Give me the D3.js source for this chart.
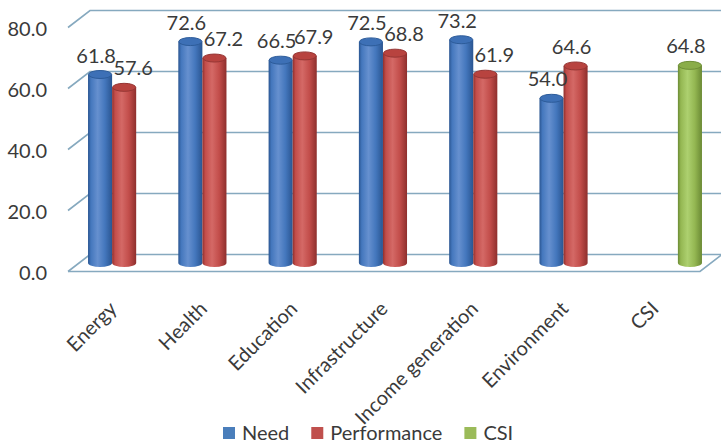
<!DOCTYPE html>
<html>
<head>
<meta charset="utf-8">
<script src="https://cdn.jsdelivr.net/npm/d3@7"></script>
<style>
  html, body { margin: 0; padding: 0; background: #ffffff; }
  svg { display: block; }
  text { font-family: Lato, "Open Sans", sans-serif; fill: #3a3a3a; }
</style>
</head>
<body>
<svg id="chart" width="721" height="443"></svg>
<script>
// Index scores per sector (3D cylinder column chart)
const categories = ["Energy", "Health", "Education", "Infrastructure", "Income generation", "Environment", "CSI"];
const seriesNames = ["Need", "Performance", "CSI"];
const needValues = [61.8, 72.6, 66.5, 72.5, 73.2, 54.0, null];
const performanceValues = [57.6, 67.2, 67.9, 68.8, 61.9, 64.6, null];
const csiValues = [null, null, null, null, null, null, 64.8];
const yTicks = [0, 20, 40, 60, 80];

const seriesValues = [needValues, performanceValues, csiValues];
const colors = {
  Need: { dark: "#2a5591", mid: "#4477bd", light: "#6690cf", top: "#3d70b6", stroke: "#2d5c9a", key: "#4a7ebb" },
  Performance: { dark: "#8e2f2d", mid: "#c24d4a", light: "#d46966", top: "#b8433f", stroke: "#963634", key: "#c0504d" },
  CSI: { dark: "#6b8a34", mid: "#94b752", light: "#add06f", top: "#8aad49", stroke: "#6f8f38", key: "#9bbb59" }
};

const svg = d3.select("#chart");
const defs = svg.append("defs");

// depth of the 3D box: back wall is shifted up-right, front edge down-left
const depth = { dx: 11, dy: 8.5 };

const x0 = d3.scaleBand().domain(categories).range([79, 711]).paddingInner(0.2).paddingOuter(0.1);
const x1 = d3.scaleBand().domain(seriesNames).range([0, x0.bandwidth()]);
const y = d3.scaleLinear().domain([0, 80]).range([263, 19]);

const gridColor = "#86a9bf";
const xLeftFront = x0.range()[0] - depth.dx;
const xRightFront = x0.range()[1] - depth.dx;
const xRightBack = x0.range()[1] + depth.dx;

// walls: gridlines on the back wall and the left side wall
const grid = svg.append("g").attr("fill", "none").attr("stroke", gridColor).attr("stroke-width", 1.6);
yTicks.forEach(t => {
  const yb = y(t) - depth.dy, yf = y(t) + depth.dy;
  grid.append("path").attr("d", `M${xLeftFront},${yf}L${xLeftFront + 2 * depth.dx},${yb}L${xRightBack + 20},${yb}`);
});
// floor front edge and right edge
grid.append("path").attr("d",
  `M${xLeftFront},${y(0) + depth.dy}L${xRightFront},${y(0) + depth.dy}L${xRightBack},${y(0) - depth.dy}`);

// y axis labels sit at the front ends of the gridlines
svg.append("g").selectAll("text").data(yTicks).join("text")
  .attr("x", 47).attr("y", d => y(d) + depth.dy)
  .attr("text-anchor", "end").attr("dominant-baseline", "central")
  .attr("font-size", 20)
  .text(d => d3.format(".1f")(d));

// gradients for cylinder shading
seriesNames.forEach(name => {
  const c = colors[name];
  const g = defs.append("linearGradient").attr("id", "grad-" + name).attr("x1", "0").attr("x2", "1").attr("y1", "0").attr("y2", "0");
  [[0, c.dark], [0.12, c.mid], [0.4, c.light], [0.7, c.mid], [1, c.dark]].forEach(([o, col]) =>
    g.append("stop").attr("offset", o).attr("stop-color", col));
});

// bars as cylinders
const rx = x1.bandwidth() / 2, ry = 4;
const bars = [];
categories.forEach((cat, i) => {
  seriesNames.forEach((name, s) => {
    const v = seriesValues[s][i];
    if (v == null) return;
    bars.push({ cat, name, v, cx: x0(cat) + x1(name) + rx });
  });
});

const barG = svg.append("g");
bars.forEach(b => {
  const c = colors[b.name];
  const yt = y(b.v), yb = y(0);
  const left = b.cx - rx, right = b.cx + rx;
  barG.append("path")
    .attr("d", `M${left},${yt}L${left},${yb}A${rx},${ry} 0 0 0 ${right},${yb}L${right},${yt}Z`)
    .attr("fill", `url(#grad-${b.name})`);
  barG.append("ellipse")
    .attr("cx", b.cx).attr("cy", yt).attr("rx", rx - 0.5).attr("ry", ry)
    .attr("fill", c.top).attr("stroke", c.stroke).attr("stroke-width", 1);
});

// value labels
const labelShift = { Need: -4, Performance: 9, CSI: -4 };
const labelOverride = { "Environment|Performance": -4 };
svg.append("g").selectAll("text").data(bars).join("text")
  .attr("x", d => d.cx + (labelOverride[d.cat + "|" + d.name] ?? labelShift[d.name]))
  .attr("y", d => y(d.v) - 20)
  .attr("text-anchor", "middle").attr("dominant-baseline", "central")
  .attr("font-size", 20)
  .text(d => d3.format(".1f")(d.v));

// rotated category labels
svg.append("g").selectAll("text").data(categories).join("text")
  .attr("transform", d => `translate(${x0(d) + x0.bandwidth() / 2 - 6},310) rotate(-45)`)
  .attr("text-anchor", "end")
  .attr("font-size", 20)
  .text(d => d);

// legend
const legend = svg.append("g");
let lx = 223;
seriesNames.forEach(name => {
  legend.append("rect").attr("x", lx).attr("y", 427).attr("width", 12).attr("height", 12)
    .attr("fill", colors[name].key);
  const t = legend.append("text").attr("x", lx + 19).attr("y", 440)
    .attr("font-size", 20).text(name);
  lx += 19 + t.node().getComputedTextLength() + 22;
});
</script>
</body>
</html>
